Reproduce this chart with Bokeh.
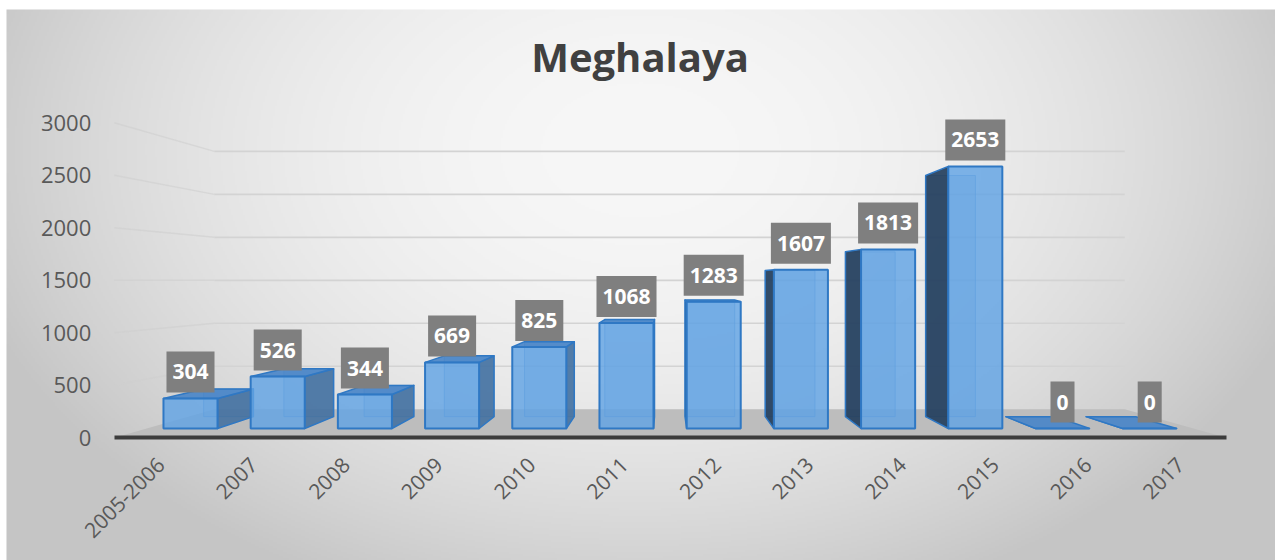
import math
import numpy as np
from bokeh.plotting import figure
from bokeh.models import Range1d, LinearAxis, FixedTicker, Label, ColumnDataSource
from bokeh.core.properties import value
from bokeh.embed import file_html
from bokeh.resources import INLINE

# ---------------- data ----------------
CATEGORIES = ["2005-2006", "2007", "2008", "2009", "2010", "2011",
              "2012", "2013", "2014", "2015", "2016", "2017"]
VALUES = [304, 526, 344, 669, 825, 1068, 1283, 1607, 1813, 2653, 0, 0]
Y_TICKS = [0, 500, 1000, 1500, 2000, 2500, 3000]
TITLE = "Meghalaya"

# ---------------- layout / perspective constants ----------------
W, H = 1275, 560
PX0, PXS = 190.0, 87.2          # screen x of category 0 / px per category
PY0, PYS = 428.0, 0.0988        # screen y of value 0 / px per unit
X0, X1 = -PX0 / PXS, (W - PX0) / PXS
Y0, Y1 = (PY0 - H) / PYS, PY0 / PYS
VX, VY = 5.45, 1498.0           # vanishing point (data units)
S_LAB, S_BACK, S_WALL = 1.063, 0.92, 0.87
HALF = 0.31
FONT = "Open Sans"


def px(i, s):
    return VX + (i - VX) * s


def py(v, s):
    return VY + (v - VY) * s


n = len(VALUES)
idx = list(range(n))

p = figure(width=W, height=H, x_range=Range1d(X0, X1), y_range=Range1d(Y0, Y1),
           output_backend="svg", toolbar_location=None, min_border=0,
           x_axis_type=None, y_axis_type=None)
p.outline_line_color = None
p.background_fill_color = "white"
p.border_fill_color = "white"

p.extra_x_ranges = {"xlab": Range1d(VX + (X0 - VX) / S_LAB, VX + (X1 - VX) / S_LAB)}
p.extra_y_ranges = {"ylab": Range1d(VY + (Y0 - VY) / S_LAB, VY + (Y1 - VY) / S_LAB)}

# ---------------- background radial gradient (chart area starts at 6,9) ----------------
CX0, CY0 = 6, 9
GW, GH = (W - CX0) // 2, (H - CY0) // 2
jj = CX0 + (np.arange(GW) + 0.5) * (W - CX0) / GW
rr = CY0 + (np.arange(GH)[::-1] + 0.5) * (H - CY0) / GH      # row 0 is bottom
XX, YY = np.meshgrid(jj, rr)
r = np.sqrt(((XX - 640) / 700.0) ** 2 + ((YY - 150) / 480.0) ** 2)
t = np.clip(r, 0, 1) ** 2
g = (0xF7 + (0xC5 - 0xF7) * t).astype(np.uint8)
img = np.empty((GH, GW), dtype=np.uint32)
view = img.view(dtype=np.uint8).reshape((GH, GW, 4))
view[:, :, 0] = g
view[:, :, 1] = g
view[:, :, 2] = g
view[:, :, 3] = 255
ix0 = (CX0 - PX0) / PXS
iy1 = (PY0 - CY0) / PYS
p.image_rgba(image=[img], x=ix0, y=Y0, dw=X1 - ix0, dh=iy1 - Y0)

# ---------------- walls: gridlines ----------------
gl = Y_TICKS[1:]
wall_l, wall_r = -0.5, n - 0.5
p.multi_line(xs=[[px(wall_l, S_LAB), px(wall_l, S_WALL)] for _ in gl],
             ys=[[py(v, S_LAB), py(v, S_WALL)] for v in gl],
             line_color="#cfcfcf", line_width=1.5, line_alpha=0.6)
p.multi_line(xs=[[px(wall_l, S_WALL), px(wall_r, S_WALL)] for _ in gl],
             ys=[[py(v, S_WALL), py(v, S_WALL)] for v in gl],
             line_color="#d3d3d3", line_width=1.6)

# ---------------- floor ----------------
p.patch(x=[px(wall_l, S_LAB), px(wall_r, S_LAB), px(wall_r, S_WALL), px(wall_l, S_WALL)],
        y=[py(0, S_LAB), py(0, S_LAB), py(0, S_WALL), py(0, S_WALL)],
        fill_color="#bdbdbd", line_color=None)

# ---------------- bars ----------------
lefts = [i - HALF for i in idx]
rights = [i + HALF for i in idx]
BAR_LINE = "#2f78c4"

back = ColumnDataSource(dict(
    left=[px(l, S_BACK) for l in lefts], right=[px(r_, S_BACK) for r_ in rights],
    bottom=[py(0, S_BACK)] * n, top=[py(v, S_BACK) for v in VALUES]))
p.quad(left="left", right="right", bottom="bottom", top="top", source=back,
       fill_color="#4a86c8", fill_alpha=0.25, line_color=BAR_LINE, line_alpha=0.5, line_width=1)

rs_x, rs_y, ls_x, ls_y, tp_x, tp_y = [], [], [], [], [], []
for l, r_, v in zip(lefts, rights, VALUES):
    if r_ < VX:
        rs_x.append([r_, r_, px(r_, S_BACK), px(r_, S_BACK)])
        rs_y.append([0, v, py(v, S_BACK), py(0, S_BACK)])
    elif l > VX:
        ls_x.append([l, l, px(l, S_BACK), px(l, S_BACK)])
        ls_y.append([0, v, py(v, S_BACK), py(0, S_BACK)])
    if v < VY:
        tp_x.append([l, r_, px(r_, S_BACK), px(l, S_BACK)])
        tp_y.append([v, v, py(v, S_BACK), py(v, S_BACK)])

p.patches(xs=rs_x, ys=rs_y, fill_color="#42709f", fill_alpha=0.88,
          line_color=BAR_LINE, line_width=1.5, line_join="round")
p.patches(xs=ls_x, ys=ls_y, fill_color="#243f5d", fill_alpha=0.92,
          line_color=BAR_LINE, line_width=1.5, line_join="round")
p.patches(xs=tp_x, ys=tp_y, fill_color="#4a86c8", fill_alpha=0.92,
          line_color=BAR_LINE, line_width=1.5, line_join="round")

front = ColumnDataSource(dict(left=lefts, right=rights, bottom=[0] * n, top=VALUES))
p.quad(left="left", right="right", bottom="bottom", top="top", source=front,
       fill_color="#62a4e4", fill_alpha=0.82, line_color=BAR_LINE, line_width=2)

# ---------------- data labels ----------------
lab = ColumnDataSource(dict(x=idx, y=VALUES, t=[str(v) for v in VALUES]))
p.text(x="x", y="y", text="t", source=lab, text_align="center", text_baseline="bottom",
       y_offset=-6, text_color="white", text_font=value(FONT), text_font_style="bold",
       text_font_size="21px", background_fill_color="#7f7f7f", padding=dict(x=6, y=13))

# ---------------- axes ----------------
yax = LinearAxis(x_range_name="xlab", y_range_name="ylab", fixed_location=wall_l,
                 ticker=FixedTicker(ticks=Y_TICKS))
yax.axis_line_color = None
yax.major_tick_line_color = None
yax.minor_tick_line_color = None
yax.major_label_standoff = 17
yax.major_label_text_font = FONT
yax.major_label_text_font_size = "22px"
yax.major_label_text_color = "#595959"
p.add_layout(yax, "left")

xax = LinearAxis(x_range_name="xlab", y_range_name="ylab", fixed_location=0,
                 ticker=FixedTicker(ticks=idx), bounds=(wall_l, wall_r),
                 major_label_overrides={i: c for i, c in zip(idx, CATEGORIES)})
xax.axis_line_color = "#3c3c3c"
xax.axis_line_width = 4
xax.major_tick_line_color = None
xax.minor_tick_line_color = None
xax.major_label_standoff = 17
xax.major_label_orientation = math.pi / 4
xax.major_label_text_font = FONT
xax.major_label_text_font_size = "21px"
xax.major_label_text_color = "#595959"
p.add_layout(xax, "below")

# ---------------- title ----------------
p.add_layout(Label(x=W / 2 + 2, y=H - 56, x_units="screen", y_units="screen", text=TITLE,
                   text_align="center", text_baseline="alphabetic", text_font=FONT,
                   text_font_style="bold", text_font_size="40px", text_color="#404040"))

open("out.html", "w").write(file_html(p, INLINE))
